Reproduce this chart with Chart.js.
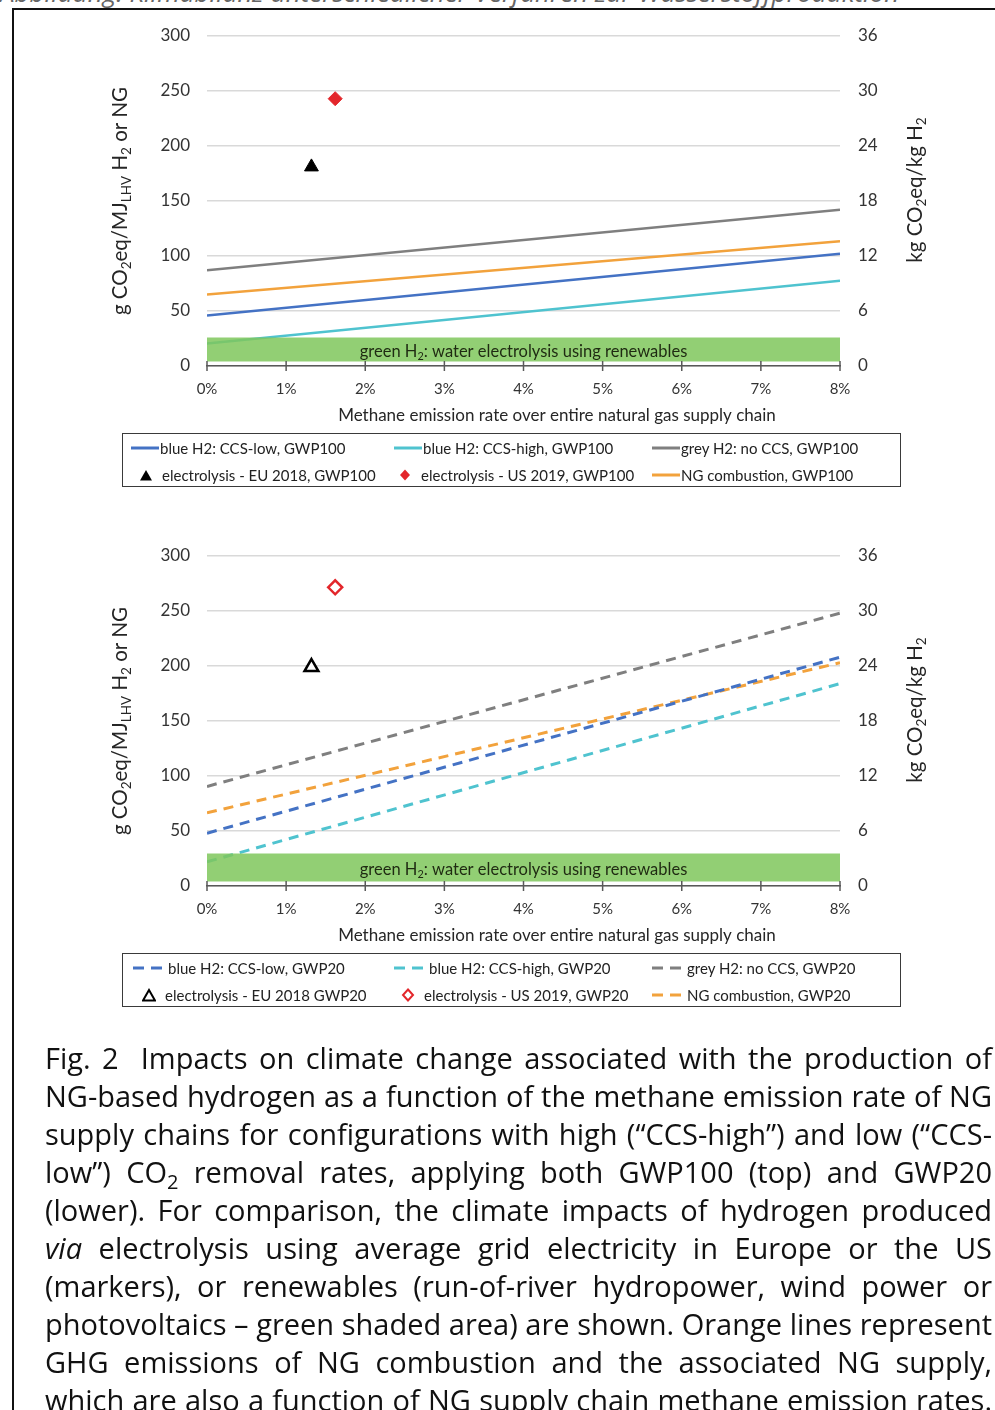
<!DOCTYPE html>
<html>
<head>
<meta charset="utf-8">
<script src="https://cdn.jsdelivr.net/npm/chart.js@4.4.1/dist/chart.umd.min.js"></script>
<style>
  body { margin: 0; background: #fff; width: 995px; height: 1410px; overflow: hidden; position: relative; font-family: Lato, sans-serif; }
  .head { position: absolute; left: 0; top: -21px; font: italic 26px/26px "Open Sans", sans-serif; color: #666; white-space: nowrap; }
  .frame { position: absolute; left: 12px; top: 8px; width: 1100px; height: 1500px; border-left: 2px solid #111; border-top: 2px solid #111; }
  canvas { position: absolute; left: 0; }
  .legend { position: absolute; left: 122px; width: 777px; height: 52px; border: 1.5px solid #3a3a3a; font-size: 15px; color: #222; }
  .legend .it { position: absolute; white-space: nowrap; height: 20px; line-height: 20px; display: flex; align-items: center; }
  .legend svg { margin-right: 1px; }
  .cap { position: absolute; left: 45px; font: 29px/38px "Liberation Sans Narrow", "Open Sans", sans-serif; color: #111; white-space: nowrap; transform-origin: 0 50%; }
</style>
</head>
<body>
<div class="head">Abbildung: Klimabilanz unterschiedlicher Verfahren zur Wasserstoffproduktion</div>
<div class="frame"></div>
<canvas id="top" width="995" height="520" style="top:0"></canvas>
<canvas id="bottom" width="995" height="520" style="top:520px"></canvas>
<div class="legend" id="leg100" style="top:433px"></div>
<div class="legend" id="leg20" style="top:953px"></div>

<div class="cap" style="top:1039px"><span style="margin-right:22px">Fig. 2</span>Impacts on climate change associated with the production of</div>
<div class="cap" style="top:1077px">NG-based hydrogen as a function of the methane emission rate of NG</div>
<div class="cap" style="top:1115px">supply chains for configurations with high (“CCS-high”) and low (“CCS-</div>
<div class="cap" style="top:1153px">low”) CO<sub style="font-size:20px;vertical-align:-6px">2</sub> removal rates, applying both GWP100 (top) and GWP20</div>
<div class="cap" style="top:1191px">(lower). For comparison, the climate impacts of hydrogen produced</div>
<div class="cap" style="top:1229px"><i>via</i> electrolysis using average grid electricity in Europe or the US</div>
<div class="cap" style="top:1267px">(markers), or renewables (run-of-river hydropower, wind power or</div>
<div class="cap" style="top:1305px">photovoltaics – green shaded area) are shown. Orange lines represent</div>
<div class="cap" style="top:1343px">GHG emissions of NG combustion and the associated NG supply,</div>
<div class="cap" style="top:1381px">which are also a function of NG supply chain methane emission rates.</div>

<script>
// methane emission rate (%) at line ends
const rates = [0, 8];

// GWP100 (g CO2eq/MJ)
const blueLow100 = [46, 102];
const blueHigh100 = [20.5, 77.5];
const grey100 = [87, 142];
const ngComb100 = [65, 113.5];

// GWP20
const blueLow20 = [48, 208];
const blueHigh20 = [22, 184];
const grey20 = [90.5, 248];
const ngComb20 = [66.5, 203];

// electrolysis markers: EU 2018, US 2019
const elecRates = [1.32, 1.62];
const elec100 = [181, 243];
const elec20 = [199, 271.5];

// green H2 band (low, high)
const greenBand100 = [4, 26];
const greenBand20 = [4, 29.5];

const lineNames100 = ['blue H2: CCS-low, GWP100', 'blue H2: CCS-high, GWP100', 'grey H2: no CCS, GWP100', 'NG combustion, GWP100'];
const markerNames100 = ['electrolysis - EU 2018, GWP100', 'electrolysis - US 2019, GWP100'];
const lineNames20 = ['blue H2: CCS-low, GWP20', 'blue H2: CCS-high, GWP20', 'grey H2: no CCS, GWP20', 'NG combustion, GWP20'];
const markerNames20 = ['electrolysis - EU 2018 GWP20', 'electrolysis - US 2019, GWP20'];

const lineColors = ['#4472c4', '#4fc3cf', '#7f7f7f', '#f2a23c'];
const markerColors = ['#000000', '#e3262b'];

Chart.defaults.font.family = 'Lato';
Chart.defaults.color = '#333333';

// text with subscripts: runs of [text, isSub]
function drawRuns(ctx, runs, x, y, size, color) {
  const sub = size * 0.66;
  let w = 0;
  runs.forEach(([t, s]) => { ctx.font = (s ? sub : size) + 'px Lato'; w += ctx.measureText(t).width; });
  let cx = x - w / 2;
  ctx.fillStyle = color;
  ctx.textBaseline = 'middle';
  ctx.textAlign = 'left';
  runs.forEach(([t, s]) => {
    ctx.font = (s ? sub : size) + 'px Lato';
    ctx.fillText(t, cx, s ? y + size * 0.3 : y);
    cx += ctx.measureText(t).width;
  });
}

const yTitle = [['g CO', 0], ['2', 1], ['eq/MJ', 0], ['LHV', 1], [' H', 0], ['2', 1], [' or NG', 0]];
const y2Title = [['kg CO', 0], ['2', 1], ['eq/kg H', 0], ['2', 1]];
const xTitle = [['Methane emission rate over entire natural gas supply chain', 0]];
const bandLabel = [['green H', 0], ['2', 1], [': water electrolysis using renewables', 0]];

const decor = {
  id: 'decor',
  afterDraw(chart, args, opts) {
    const ctx = chart.ctx, a = chart.chartArea, xs = chart.scales.x, ys = chart.scales.y;
    ctx.save();
    ctx.strokeStyle = '#595959';
    ctx.lineWidth = 1.5;
    xs.ticks.forEach(t => {
      const px = xs.getPixelForValue(t.value);
      ctx.beginPath(); ctx.moveTo(px, a.bottom - 5); ctx.lineTo(px, a.bottom + 5); ctx.stroke();
    });
    const mid = ys.getPixelForValue((opts.band[0] + opts.band[1]) / 2) + 2;
    drawRuns(ctx, bandLabel, (a.left + a.right) / 2, mid, 16.5, '#1f2a12');
    drawRuns(ctx, xTitle, 557, a.bottom + 50, 17, '#262626');
    ctx.save(); ctx.translate(a.left - 87, a.top + 165); ctx.rotate(-Math.PI / 2);
    drawRuns(ctx, yTitle, 0, 0, 20.5, '#262626'); ctx.restore();
    ctx.save(); ctx.translate(a.right + 75, a.top + 154); ctx.rotate(-Math.PI / 2);
    drawRuns(ctx, y2Title, 0, 0, 20.5, '#262626'); ctx.restore();
    ctx.restore();
  }
};

function pts(vals) { return rates.map((r, i) => ({ x: r, y: vals[i] })); }

function makePanel(id, series, names, elec, band, dashed) {
  const datasets = series.map((vals, i) => ({
    label: names[i], data: pts(vals), borderColor: lineColors[i],
    borderWidth: dashed ? 3 : 2.5, borderDash: dashed ? [10, 7] : [],
    pointRadius: 0, fill: false, order: 2
  }));
  elecRates.forEach((r, i) => datasets.push({
    label: 'marker' + i, data: [{ x: r, y: elec[i] }], showLine: false,
    pointStyle: i === 0 ? 'triangle' : 'rectRot', pointRadius: i === 0 ? 8 : 7,
    pointBorderColor: markerColors[i], pointBorderWidth: dashed ? 2.5 : 1,
    pointBackgroundColor: dashed ? '#ffffff' : markerColors[i], order: 0
  }));
  datasets.push({
    label: 'green', data: rates.map(r => ({ x: r, y: band[1] })),
    borderWidth: 0, pointRadius: 0, fill: { value: band[0] },
    backgroundColor: 'rgba(127,199,92,0.85)', order: 1
  });
  new Chart(document.getElementById(id), {
    type: 'line',
    data: { datasets },
    options: {
      responsive: false, animation: false,
      layout: { padding: { top: 36 } },
      plugins: { legend: { display: false }, tooltip: { enabled: false }, decor: { band } },
      scales: {
        x: {
          type: 'linear', min: 0, max: 8,
          afterFit: s => { s.height = 154; },
          grid: { display: false },
          border: { color: '#595959', width: 1.5 },
          ticks: { stepSize: 1, padding: 6, font: { size: 15 }, callback: v => v + '%' }
        },
        y: {
          min: 0, max: 300,
          afterFit: s => { s.width = 207; },
          grid: { color: '#d9d9d9', lineWidth: 1.5, drawTicks: false },
          border: { display: false },
          ticks: { stepSize: 50, padding: 17, font: { size: 17 } }
        },
        y2: {
          position: 'right', min: 0, max: 36,
          afterFit: s => { s.width = 155; },
          grid: { drawOnChartArea: false, drawTicks: false },
          border: { display: false },
          ticks: { stepSize: 6, padding: 18, font: { size: 17 } }
        }
      }
    },
    plugins: [decor]
  });
}

makePanel('top', [blueLow100, blueHigh100, grey100, ngComb100], lineNames100, elec100, greenBand100, false);
makePanel('bottom', [blueLow20, blueHigh20, grey20, ngComb20], lineNames20, elec20, greenBand20, true);

// legend samples
function sample(kind, color) {
  if (kind === 'line') return `<svg width="28" height="8"><line x1="0" y1="4" x2="28" y2="4" stroke="${color}" stroke-width="3"/></svg>`;
  if (kind === 'dash') return `<svg width="34" height="8"><line x1="0" y1="4" x2="34" y2="4" stroke="${color}" stroke-width="3" stroke-dasharray="11 7"/></svg>`;
  const open = kind.endsWith('Open');
  const fill = open ? '#fff' : color, sw = open ? 2 : 0;
  if (kind.startsWith('tri')) return `<svg width="14" height="14"><polygon points="7,2 13,12.5 1,12.5" fill="${fill}" stroke="${color}" stroke-width="${sw}"/></svg>`;
  return `<svg width="14" height="14"><polygon points="7,1.5 12,7 7,12.5 2,7" fill="${fill}" stroke="${color}" stroke-width="${sw}"/></svg>`;
}

function buildLegend(id, lineNames, markerNames, dashed, cols) {
  const el = document.getElementById(id);
  const lk = dashed ? 'dash' : 'line';
  const items = [
    [cols.l[0], 4, sample(lk, lineColors[0]), lineNames[0]],
    [cols.l[1], 4, sample(lk, lineColors[1]), lineNames[1]],
    [cols.l[2], 4, sample(lk, lineColors[2]), lineNames[2]],
    [cols.m[0], 31, sample(dashed ? 'triOpen' : 'tri', markerColors[0]), markerNames[0]],
    [cols.m[1], 31, sample(dashed ? 'diaOpen' : 'dia', markerColors[1]), markerNames[1]],
    [cols.l[2], 31, sample(lk, lineColors[3]), lineNames[3]]
  ];
  items.forEach(([x, y, svg, text]) => {
    const d = document.createElement('div');
    d.className = 'it';
    d.style.left = x + 'px';
    d.style.top = y + 'px';
    d.innerHTML = svg + `<span style="margin-left:${svg.includes('width="14"') ? 8 : 0}px">${text}</span>`;
    el.appendChild(d);
  });
}
buildLegend('leg100', lineNames100, markerNames100, false, { l: [8, 271, 529], m: [16, 275] });
buildLegend('leg20', lineNames20, markerNames20, true, { l: [10, 271, 529], m: [19, 278] });

// justify caption lines to the column width
document.querySelectorAll('.cap').forEach(el => {
  const target = 947;
  const w = el.getBoundingClientRect().width;
  if (w > target) {
    el.style.transform = `scaleX(${target / w})`;
  } else {
    const spaces = (el.textContent.match(/ /g) || []).length;
    el.style.wordSpacing = ((target - w) / spaces) + 'px';
  }
});
</script>
</body>
</html>
